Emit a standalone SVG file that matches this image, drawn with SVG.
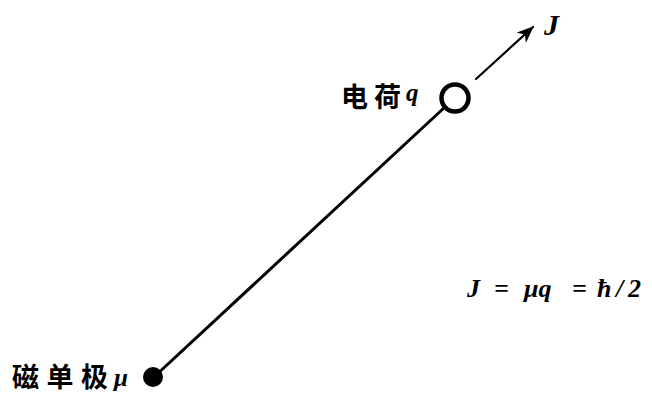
<svg xmlns="http://www.w3.org/2000/svg" width="652" height="394" viewBox="0 0 652 394">
<style>
.cjk{font-family:"Noto Sans CJK SC","Noto Sans CJK JP",sans-serif;font-weight:bold;font-size:27px;fill:#000}
.it{font-family:"Liberation Serif",serif;font-style:italic;font-weight:bold;fill:#000}
.ln{stroke:#000;fill:none;stroke-linecap:round}
</style>
<defs>
<marker id="ah" markerWidth="18" markerHeight="14" refX="16" refY="7" orient="auto" markerUnits="userSpaceOnUse">
<path d="M0,0 L17,7 L0,14 L5,7 Z" fill="#000"/>
</marker>
</defs>
<rect width="652" height="394" fill="#fff"/>
<g id="connectors">
<line class="ln" x1="154" y1="377" x2="445" y2="107" stroke-width="3"/>
<line class="ln" x1="476" y1="79" x2="533" y2="27" stroke-width="2.2" marker-end="url(#ah)"/>
</g>
<g id="charge">
<circle cx="455" cy="98" r="13.5" fill="#fff" stroke="#000" stroke-width="4.5"/>
<text class="cjk" x="341" y="107" textLength="60" lengthAdjust="spacing">电荷</text>
<text class="it" x="406" y="101" font-size="25">q</text>
</g>
<g id="monopole">
<circle cx="153" cy="377" r="10" fill="#000"/>
<text class="cjk" x="12" y="387" textLength="96" lengthAdjust="spacing">磁单极</text>
<text class="it" x="114" y="386" font-size="25">μ</text>
</g>
<g id="label-J">
<text class="it" x="544" y="35" font-size="30">J</text>
</g>
<g id="formula">
<text class="it" y="297" font-size="26"><tspan x="467">J</tspan><tspan x="494">=</tspan><tspan x="524">μq</tspan><tspan x="572">=</tspan><tspan x="597">ħ</tspan><tspan x="616">/</tspan><tspan x="628">2</tspan></text>
</g>
</svg>
